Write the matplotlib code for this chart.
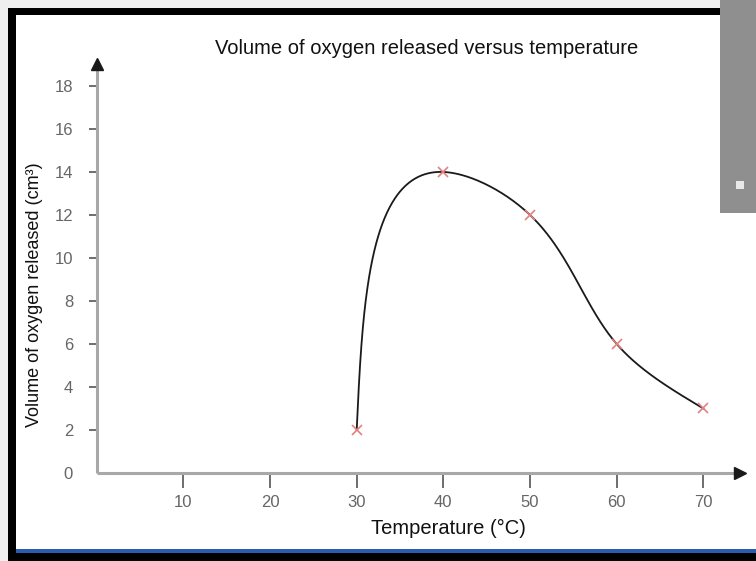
import numpy as np
import matplotlib
matplotlib.use("Agg")
import matplotlib.pyplot as plt
from matplotlib.patches import Rectangle
from matplotlib import font_manager

temps = [30, 40, 50, 60, 70]
volumes = [2, 14, 12, 6, 3]
x_ticks = [10, 20, 30, 40, 50, 60, 70]
y_ticks = [0, 2, 4, 6, 8, 10, 12, 14, 16, 18]

names = {f.name for f in font_manager.fontManager.ttflist}
FAM = ['Liberation Sans Narrow', 'DejaVu Sans'] if 'Liberation Sans Narrow' in names \
    else ['Liberation Sans', 'DejaVu Sans']
plt.rcParams['font.family'] = FAM


def natural_spline(t, y, tt):
    # natural cubic spline, solved with numpy
    t = np.asarray(t, float)
    y = np.asarray(y, float)
    n = len(t)
    h = np.diff(t)
    A = np.zeros((n, n))
    b = np.zeros(n)
    A[0, 0] = A[-1, -1] = 1
    for i in range(1, n - 1):
        A[i, i - 1] = h[i - 1]
        A[i, i] = 2 * (h[i - 1] + h[i])
        A[i, i + 1] = h[i]
        b[i] = 3 * ((y[i + 1] - y[i]) / h[i] - (y[i] - y[i - 1]) / h[i - 1])
    c = np.linalg.solve(A, b)
    out = np.empty_like(tt)
    for k, v in enumerate(tt):
        i = min(np.searchsorted(t, v, side='right') - 1, n - 2)
        i = max(i, 0)
        d = v - t[i]
        bi = (y[i + 1] - y[i]) / h[i] - h[i] * (2 * c[i] + c[i + 1]) / 3
        di = (c[i + 1] - c[i]) / (3 * h[i])
        out[k] = y[i] + bi * d + c[i] * d ** 2 + di * d ** 3
    return out


fig = plt.figure(figsize=(7.56, 5.61), dpi=100)
fig.patch.set_facecolor('#efefef')
W, H = 756, 561


def px_rect(x0, y0, x1, y1, **kw):
    fig.patches.append(Rectangle((x0 / W, 1 - y1 / H), (x1 - x0) / W, (y1 - y0) / H,
                                 transform=fig.transFigure, figure=fig,
                                 zorder=-5, **kw))


# frame, screenshot pieces
px_rect(8, 8, 756, 561, facecolor='black', edgecolor='none')
px_rect(16, 15, 756, 549, facecolor='white', edgecolor='none')
px_rect(16, 549, 756, 553, facecolor='#2a5db0', edgecolor='none')
px_rect(720, 0, 756, 213, facecolor='#8f8f8f', edgecolor='none')
px_rect(736, 181, 744, 189, facecolor='#e8e8e8', edgecolor='none')

ax = fig.add_axes((96.7 / W, 1 - 473 / H, 650 / W, 415 / H))
ax.set_facecolor('none')
ax.set_xlim(0, 75)
ax.set_ylim(0, 19.3)
for s in ax.spines.values():
    s.set_visible(False)

# axes lines with dark arrow heads
ax.plot([0, 0.985], [0, 0], transform=ax.transAxes, color='#a8a8a8', lw=2.2,
        clip_on=False, solid_capstyle='butt')
ax.plot([0, 0], [0, 0.975], transform=ax.transAxes, color='#a8a8a8', lw=2.2,
        clip_on=False, solid_capstyle='butt')
ax.plot([0.99], [0], '>', transform=ax.transAxes, color='#1a1a1a', ms=9,
        clip_on=False)
ax.plot([0], [0.985], '^', transform=ax.transAxes, color='#1a1a1a', ms=9,
        clip_on=False)

ax.set_xticks(x_ticks)
ax.set_yticks(y_ticks)
ax.tick_params(axis='x', length=11, width=1.2, color='#555555', labelsize=12,
               labelcolor='#666666', pad=5)
ax.tick_params(axis='y', length=6, width=1.2, color='#555555', labelsize=12,
               labelcolor='#666666', pad=11)
ax.yaxis.get_major_ticks()[0].tick1line.set_visible(False)

# smooth curve through the points (parametric natural spline)
px = np.array(temps, float) / 75 * 650
py = np.array(volumes, float) / 19.3 * 415
s = np.concatenate([[0], np.cumsum(np.hypot(np.diff(px), np.diff(py)))])
ss = np.linspace(0, s[-1], 400)
cx = natural_spline(s, px, ss) / 650 * 75
cy = natural_spline(s, py, ss) / 415 * 19.3
ax.plot(cx, cy, color='#1a1a1a', lw=1.3, clip_on=False)
ax.plot(temps, volumes, 'x', color='#e58080', ms=6.5, mew=1.2, clip_on=False)

fig.text(448 / W, 1 - 528 / H, 'Temperature (°C)', ha='center', va='center',
         fontsize=14.5, color='#111111')
fig.text(35 / W, 1 - 295 / H, 'Volume of oxygen released (cm³)', ha='center',
         va='center', rotation=90, fontsize=13, color='#111111')
fig.text(427 / W, 1 - 48 / H, 'Volume of oxygen released versus temperature',
         ha='center', va='center', fontsize=14.5, color='#111111')

fig.savefig('out.png', dpi=100)
